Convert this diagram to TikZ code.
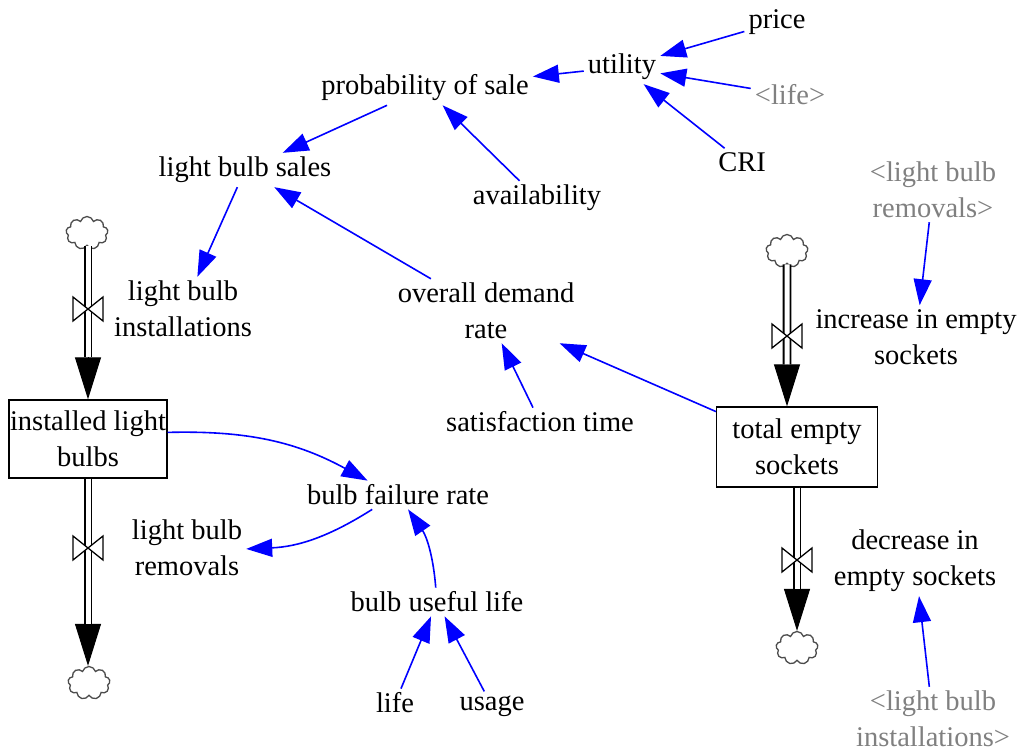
\documentclass[tikz,border=0pt]{standalone}
\usepackage{fontspec}
\setmainfont{Liberation Serif}
\usetikzlibrary{arrows.meta,shapes.symbols}

\begin{document}
\begin{tikzpicture}[x=1pt,y=-1pt,
    font=\fontsize{28.5}{36}\selectfont,
    var/.style={align=center,inner sep=4pt},
    ghost/.style={var,text=gray},
    stock/.style={draw,line width=1.3pt,inner sep=0pt,align=center},
    sink/.style={cloud,cloud puffs=9,cloud ignores aspect,draw=black!70,line width=1.3pt,fill=white,minimum width=42pt,minimum height=33pt,inner sep=0pt},
    link/.style={blue,line width=1.6pt,-{Triangle[length=26pt,width=18pt]}},
    flowtip/.style={line width=1pt,-{Triangle[length=42pt,width=26pt]}},
    pipe/.style={double,double distance=5pt,line width=1.8pt,shorten >=42pt},
    valve/.style={draw,line width=1.3pt,fill=white}]
  \useasboundingbox (0,0) rectangle (1026,755);
  \node[var] (price) at (777,22) {price};
  \node[var] (utility) at (622,67) {utility};
  \node[ghost] (lifeRef) at (790,95) {<life>};
  \node[var] (cri) at (742,162) {CRI};
  \node[var] (prob) at (425,88) {probability of sale};
  \node[var] (sales) at (245,170) {light bulb sales};
  \node[var] (avail) at (537,198) {availability};
  \node[var] (install) at (183,309) {light bulb\\installations};
  \node[var] (demand) at (486,311) {overall demand\\rate};
  \node[ghost] (removalsRef) at (933,190) {<light bulb\\removals>};
  \node[var] (increase) at (916,337) {increase in empty\\sockets};
  \node[stock,minimum width=158pt,minimum height=78pt] (installed) at (88,439) {installed light\\bulbs};
  \node[var] (satis) at (540,422) {satisfaction time};
  \node[stock,minimum width=161pt,minimum height=80pt] (total) at (797,447) {total empty\\sockets};
  \node[var] (failure) at (398,495) {bulb failure rate};
  \node[var] (removals) at (187,548) {light bulb\\removals};
  \node[var] (decrease) at (915,561) {decrease in\\empty sockets};
  \node[var] (useful) at (437,602) {bulb useful life};
  \node[var] (life) at (395,703) {life};
  \node[var] (usage) at (492,706) {usage};
  \node[ghost] (installRef) at (933,719) {<light bulb\\installations>};

  % sources and sinks
  \node[sink] (srcA) at (87,233) {};
  \node[sink] (sinkB) at (89,683) {};
  \node[sink] (srcC) at (787,251) {};
  \node[sink] (sinkD) at (797,648) {};
  \coordinate (vA) at (88,309);
  \coordinate (vB) at (88,548);
  \coordinate (vC) at (787,336);
  \coordinate (vD) at (797,560);

  % flows
  \draw[flowtip] (srcA.south -| installed) -- (installed);
  \draw[pipe] (srcA.south -| installed) -- (installed);
  \draw[flowtip] (installed) -- (installed |- sinkB.north);
  \draw[pipe] (installed) -- (installed |- sinkB.north);
  \draw[flowtip] (srcC) -- (srcC |- total.north);
  \draw[pipe] (srcC) -- (srcC |- total.north);
  \draw[flowtip] (total) -- (sinkD);
  \draw[pipe] (total) -- (sinkD);
  \foreach \v in {vA,vB,vC,vD}
    \draw[valve] (\v) ++(-15,-12) -- ++(30,24) -- ++(0,-24) -- ++(-30,24) -- cycle;

  % causal links
  \begin{scope}[link]
    \draw (price) to (utility);
    \draw (lifeRef) to (utility);
    \draw (cri) to (utility);
    \draw (utility) to (prob);
    \draw (prob) to (sales);
    \draw (avail) to (prob);
    \draw (sales) to (install);
    \draw (demand) to (sales);
    \draw (total) to (demand);
    \draw (satis) to (demand);
    \draw (removalsRef) to (increase);
    \draw (installRef) to (decrease);
    \draw (installed) to[bend left=15] (failure);
    \draw (failure) to[bend left=15] (removals);
    \draw (useful) to[bend right=15] (failure);
    \draw (life) to (useful);
    \draw (usage) to (useful);
  \end{scope}
\end{tikzpicture}
\end{document}
